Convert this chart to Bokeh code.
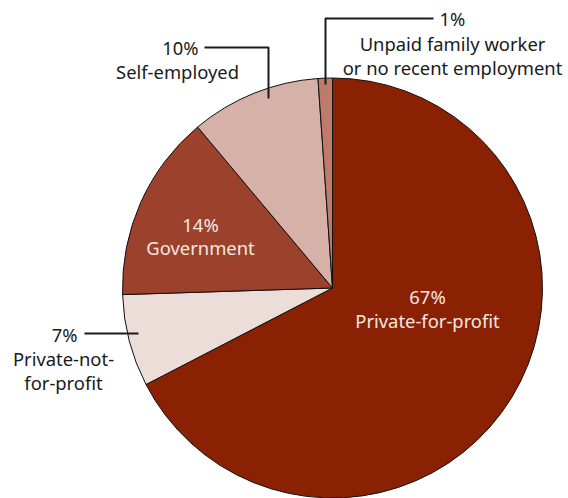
from bokeh.plotting import figure
from bokeh.models import Range1d, ColumnDataSource
from bokeh.core.properties import value
from bokeh.embed import file_html
from bokeh.resources import INLINE
import numpy as np

# ---- data (clockwise from 12 o'clock) ----
categories = ["Private-for-profit", "Private-not-for-profit", "Government",
              "Self-employed", "Unpaid family worker or no recent employment"]
shares = [67.4, 7.1, 14.4, 10.0, 1.1]
pct_labels = ["67%", "7%", "14%", "10%", "1%"]
colors = ["#8B2103", "#EDDDD9", "#9C412B", "#D5B1A7", "#BD7C6B"]

W, H = 568, 498
p = figure(width=W, height=H, output_backend="svg", toolbar_location=None,
           x_range=Range1d(0, W), y_range=Range1d(0, H), min_border=0)
p.axis.visible = False
p.grid.visible = False
p.outline_line_color = None
p.background_fill_color = "white"

def X(px):
    return px
def Y(py):
    return H - py

cx, cy, r = X(332), Y(287.5), 210
total = sum(shares)
cum = np.concatenate([[0], np.cumsum(shares)])
starts = np.pi / 2 - cum[:-1] / total * 2 * np.pi
ends = np.pi / 2 - cum[1:] / total * 2 * np.pi
src = ColumnDataSource(dict(start=starts, end=ends, color=colors, cat=categories))
p.wedge(x=cx, y=cy, radius=r, start_angle="start", end_angle="end",
        direction="clock", fill_color="color", line_color="#111111",
        line_width=1, source=src)

font = value("Noto Sans")
inner = "#F4E8E3"
dark = "#1a1a1a"
fs = "18.4px"

def txt(x, y, s, color, align="center"):
    p.text(x=[X(x)], y=[Y(y)], text=[s], text_font=font, text_font_size=fs,
           text_color=color, text_align=align, text_baseline="middle")

# inside labels
txt(427, 296, pct_labels[0], inner)
txt(427, 320, "Private-for-profit", inner)
txt(200, 224, pct_labels[2], inner)
txt(200, 247, "Government", inner)

# outside labels
txt(77, 334, pct_labels[1], dark, "right")
txt(63, 358, "Private-not-", dark)
txt(63, 382, "for-profit", dark)
p.line(x=[X(84), X(138)], y=[Y(333), Y(333)], line_color=dark, line_width=2)

txt(198, 47, pct_labels[3], dark, "right")
txt(177, 71, "Self-employed", dark)
p.line(x=[X(204), X(268), X(268)], y=[Y(47), Y(47), Y(98)], line_color=dark, line_width=2)

txt(439, 18, pct_labels[4], dark, "left")
txt(452, 43, "Unpaid family worker", dark)
txt(452, 67, "or no recent employment", dark)
p.line(x=[X(433), X(325), X(325)], y=[Y(18), Y(18), Y(84)], line_color=dark, line_width=2)

open("out.html", "w").write(file_html(p, INLINE))
